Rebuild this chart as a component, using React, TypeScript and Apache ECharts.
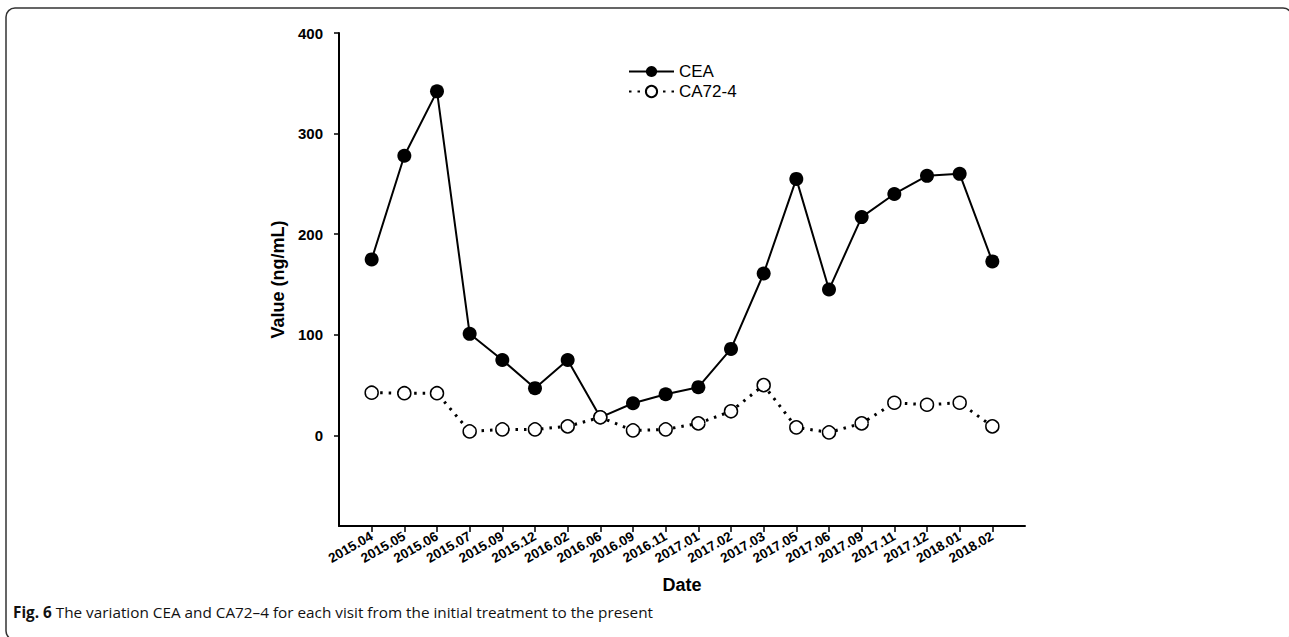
import React, { useEffect, useRef } from "react";
import * as echarts from "echarts";

const dates = [
  "2015.04", "2015.05", "2015.06", "2015.07", "2015.09", "2015.12", "2016.02",
  "2016.06", "2016.09", "2016.11", "2017.01", "2017.02", "2017.03", "2017.05",
  "2017.06", "2017.09", "2017.11", "2017.12", "2018.01", "2018.02",
];
const ceaValues = [175, 278, 342, 101, 75, 47, 75, 18, 32, 41, 48, 86, 161, 255, 145, 217, 240, 258, 260, 173];
const ca724Values = [42.5, 42, 42, 4, 6, 6, 9, 18, 5, 6, 12, 24, 50, 8, 3, 12, 32.5, 30.5, 32.5, 9];
const yTicks = [0, 100, 200, 300, 400];
const caption = "The variation CEA and CA72\u20134 for each visit from the initial treatment to the present";

export default function App() {
  const ref = useRef<HTMLDivElement>(null);
  useEffect(() => {
    if (!ref.current) return;
    const chart = echarts.init(ref.current, null, { renderer: "svg" });
    const cats = ["", ...dates, ""];
    const pad = (a: number[]) => [null, ...a, null];
    const bold = { fontFamily: "Arial, 'Liberation Sans', sans-serif", fontWeight: "bold", color: "#000" };
    chart.setOption({
      animation: false,
      backgroundColor: "#fff",
      grid: { left: 339, right: 264, top: 33, bottom: 111, containLabel: false },
      legend: {
        orient: "vertical",
        left: 623,
        top: 58,
        itemWidth: 45,
        itemHeight: 14,
        itemGap: 3,
        textStyle: { fontFamily: "Arial, 'Liberation Sans', sans-serif", fontSize: 17, color: "#000" },
        data: ["CEA", "CA72-4"],
      },
      xAxis: {
        type: "category",
        data: cats,
        boundaryGap: false,
        name: "Date",
        nameLocation: "middle",
        nameGap: 50,
        nameTextStyle: { ...bold, fontSize: 18 },
        axisLine: { onZero: false, lineStyle: { color: "#000", width: 2 } },
        axisTick: { length: 6, lineStyle: { color: "#000", width: 1.5 }, interval: (i: number, v: string) => v !== "" },
        axisLabel: { ...bold, fontSize: 13.5, rotate: 30, interval: 0, margin: 9 },
        splitLine: { show: false },
      },
      yAxis: {
        type: "value",
        min: -90,
        max: 400,
        name: "Value (ng/mL)",
        nameLocation: "middle",
        nameGap: 42,
        nameTextStyle: { ...bold, fontSize: 18 },
        axisLine: { show: true, lineStyle: { color: "#000", width: 2 } },
        axisTick: { show: true, length: 5, lineStyle: { color: "#000", width: 1.5 }, customValues: yTicks },
        axisLabel: { ...bold, fontSize: 15, margin: 16, customValues: yTicks },
        splitLine: { show: false },
      },
      series: [
        {
          name: "CEA",
          type: "line",
          data: pad(ceaValues),
          symbol: "circle",
          symbolSize: 14,
          lineStyle: { color: "#000", width: 2 },
          itemStyle: { color: "#000" },
        },
        {
          name: "CA72-4",
          type: "line",
          data: pad(ca724Values),
          symbol: "circle",
          symbolSize: 13,
          lineStyle: { color: "#000", width: 3, type: [2.5, 6] },
          itemStyle: { color: "#fff", borderColor: "#000", borderWidth: 1.5 },
        },
      ],
      graphic: [
        {
          type: "rect",
          shape: { x: 6, y: 8, width: 1286, height: 632, r: 9 },
          style: { fill: "none", stroke: "#333", lineWidth: 1.5 },
          silent: true,
        },
        {
          type: "text",
          left: 13,
          top: 604,
          style: {
            text: "{b|Fig. 6} " + caption,
            font: "15.3px 'Open Sans', sans-serif",
            fill: "#111",
            rich: { b: { fontWeight: "bold", fontSize: 15.3, fontFamily: "'Open Sans', sans-serif", fill: "#111" } },
          },
        },
      ],
    });
    return () => chart.dispose();
  }, []);
  return <div ref={ref} style={{ position: "fixed", left: 0, top: 0, width: 1289, height: 637 }} />;
}
